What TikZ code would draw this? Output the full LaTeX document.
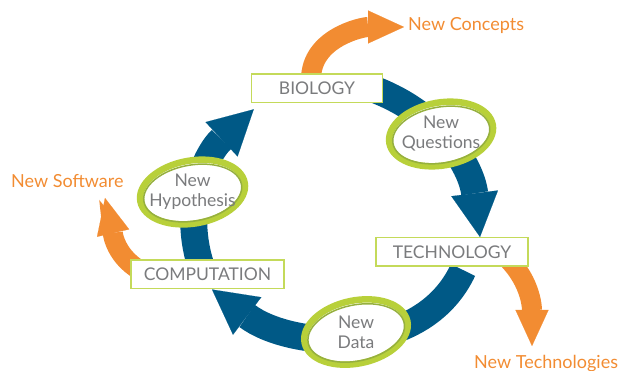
\documentclass[tikz,border=0pt]{standalone}
\usepackage{fontspec}
\setmainfont{Lato}
\usetikzlibrary{arrows.meta, positioning}
\pgfdeclarelayer{background}
\pgfsetlayers{background,main}
\definecolor{CycleBlue}{RGB}{0, 89, 134}
\definecolor{SpinOrange}{RGB}{242, 140, 50}
\definecolor{RingLime}{RGB}{184, 208, 58}
\definecolor{RingShade}{RGB}{150, 176, 62}
\definecolor{BoxLime}{RGB}{196, 218, 90}
\definecolor{LabelGray}{RGB}{122, 123, 125}

\begin{document}
\begin{tikzpicture}[
    x=1pt, y=1pt,
    font=\fontsize{17.5}{20}\selectfont,
    stage/.style={
        draw=BoxLime,              % thin lime frame
        fill=white,
        line width=1.5pt,
        minimum height=28.5pt,
        inner sep=0pt,
        text=LabelGray
    },
    bubble/.style={
        draw=RingLime,             % bright ring
        fill=white,
        line width=6.5pt
    },
    bubble_shade/.style={
        draw=RingShade,            % darker inner rim
        line width=1.5pt
    },
    bubble_text/.style={
        align=center,
        inner sep=0pt,
        text=LabelGray
    },
    cycle_arrow/.style={
        draw=CycleBlue,
        line width=27pt,
        -{Triangle[width=47pt, length=44pt, line width=0.1pt]}
    },
    spin_off/.style={
        draw=SpinOrange,
        line width=20pt,
        -{Triangle[width=33pt, length=36pt, line width=0.1pt]}
    },
    outcome_text/.style={
        anchor=base west,
        inner sep=0pt,
        text=SpinOrange,
        font=\fontsize{18}{20}\selectfont
    }
]
    \useasboundingbox (0,0) rectangle (621,-371);

    % --- 1. Stages ---
    \node[stage, minimum width=131pt] (biology) at (317,-88.3) {BIOLOGY};
    \node[stage, minimum width=152pt] (technology) at (452,-252) {TECHNOLOGY};
    \node[stage, minimum width=153pt] (computation) at (207.5,-274.5) {COMPUTATION};

    % --- 2. Outcomes ---
    \node[outcome_text] (concepts) at (408,-31) {New Concepts};
    \node[outcome_text] (software) at (11,-187.5) {New Software};
    \node[outcome_text] (technologies) at (474,-368) {New Technologies};

    % Arrow ends
    \coordinate (concepts_tip) at (404,-27);
    \coordinate (software_tip) at (105,-198);
    \coordinate (technologies_tip) at (532,-346);

    % --- 3. Cycle and spin-offs (behind the boxes) ---
    \begin{pgfonlayer}{background}
        \draw[spin_off] ([xshift=-6pt, yshift=-6pt]biology.north) to[out=90, in=180] (concepts_tip);
        \draw[spin_off] ([xshift=10pt, yshift=4pt]computation.west) to[out=150, in=-77] (software_tip);
        \draw[spin_off] ([xshift=55pt, yshift=-6pt]technology.center) to[out=-45, in=90] (technologies_tip);

        \draw[cycle_arrow] ([shift={(-3pt,-1pt)}]computation.center) to[out=112, in=223] ([shift={(3pt,-6pt)}]biology.south west);
        \draw[cycle_arrow] ([shift={(-12pt,0pt)}]biology.east) to[out=-20, in=97] ([xshift=28pt]technology.north);
        \draw[cycle_arrow] ([shift={(11pt,-18pt)}]technology.center) to[out=245, in=-37] ([xshift=4.5pt]computation.south);
    \end{pgfonlayer}

    % --- 4. Bubbles on the ring ---
    \coordinate (questions_c) at (441,-134);
    \coordinate (hypothesis_c) at (192.5,-192);
    \coordinate (data_c) at (356,-332);

    \draw[bubble, rotate around={10:(questions_c)}] (questions_c) ellipse [x radius=52.5, y radius=31.5];
    \draw[bubble_shade, rotate around={10:(questions_c)}] ([yshift=-1pt]questions_c) ellipse [x radius=49, y radius=28];
    \node[bubble_text] (questions) at (questions_c) {New\\Questions};

    \draw[bubble, rotate around={10:(hypothesis_c)}] (hypothesis_c) ellipse [x radius=53, y radius=31.5];
    \draw[bubble_shade, rotate around={10:(hypothesis_c)}] ([yshift=-1pt]hypothesis_c) ellipse [x radius=49.5, y radius=28];
    \node[bubble_text] (hypothesis) at (hypothesis_c) {New\\Hypothesis};

    \draw[bubble, rotate around={12:(data_c)}] (data_c) ellipse [x radius=52.5, y radius=31.5];
    \draw[bubble_shade, rotate around={12:(data_c)}] ([yshift=-1pt]data_c) ellipse [x radius=49, y radius=28];
    \node[bubble_text] (data) at (data_c) {New\\Data};

\end{tikzpicture}
\end{document}
